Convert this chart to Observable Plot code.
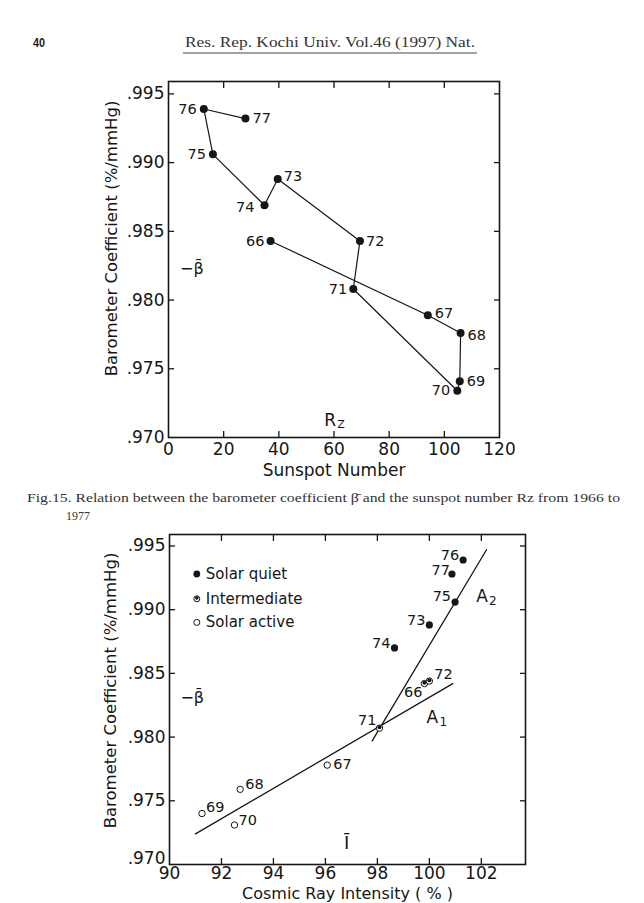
<!DOCTYPE html>
<html>
<head>
<meta charset="utf-8">
<script src="https://cdn.jsdelivr.net/npm/d3@7"></script>
<script src="https://cdn.jsdelivr.net/npm/@observablehq/plot@0.6"></script>
<style>
  html, body { margin: 0; padding: 0; background: #fff; }
  #page { position: relative; width: 644px; height: 903px; overflow: hidden; background: #fff; }
  #page > svg, #page > figure, #page > div { position: absolute; margin: 0; }
</style>
</head>
<body>
<div id="page"></div>
<script>
// Yearly barometer coefficient (-beta bar, %/mmHg), 1966-1977
const years = ["66", "67", "68", "69", "70", "71", "72", "73", "74", "75", "76", "77"];

// Fig.15: against the yearly sunspot number Rz
const sunspot = [37.0, 94.0, 105.9, 105.6, 104.7, 67.0, 69.4, 39.6, 34.8, 16.1, 12.8, 27.9];
const coefRz = [0.9843, 0.9789, 0.9776, 0.9741, 0.9734, 0.9808, 0.9843, 0.9888, 0.9869, 0.9906, 0.9939, 0.9932];

// Fig.16: against the yearly mean cosmic ray intensity
const cosmicRay = [99.81, 96.07, 92.72, 91.25, 92.50, 98.08, 100.0, 100.0, 98.66, 100.99, 101.30, 100.87];
const coefCR = [0.9842, 0.9778, 0.9759, 0.9740, 0.9731, 0.9807, 0.9844, 0.9888, 0.9870, 0.9906, 0.9939, 0.9928];
const activity = ["Intermediate", "Solar active", "Solar active", "Solar active", "Solar active", "Intermediate",
                  "Intermediate", "Solar quiet", "Solar quiet", "Solar quiet", "Solar quiet", "Solar quiet"];

// Regression lines A1 (solar active) and A2 (solar quiet): end points
const lineA1x = [91.0, 100.9];
const lineA1y = [0.9724, 0.9842];
const lineA2x = [97.8, 102.2];
const lineA2y = [0.9797, 0.9947];

// Axis ticks
const coefTicks = [0.970, 0.975, 0.980, 0.985, 0.990, 0.995];
const sunspotTicks = [0, 20, 40, 60, 80, 100, 120];
const cosmicTicks = [90, 92, 94, 96, 98, 100, 102];
const legendKeys = ["Solar quiet", "Intermediate", "Solar active"];

const ink = "#161616";
const font = "'DejaVu Sans', sans-serif";
const coefFmt = d => d3.format(".3f")(d).slice(1);

const page = document.getElementById("page");

// label placement around each point: [textAnchor, dx, dy]
const place15 = {
  "66": ["end", -6, 0], "67": ["start", 7, -2], "68": ["start", 7, 2], "69": ["start", 7, 0],
  "70": ["end", -7, 0], "71": ["end", -6, 0], "72": ["start", 6, 0], "73": ["start", 6, -3],
  "74": ["end", -10, 2], "75": ["end", -7, 0], "76": ["end", -7, 0], "77": ["start", 7, 0]
};
const place16 = {
  "66": ["end", -2, 9], "67": ["start", 6, -1], "68": ["start", 5, -5], "69": ["start", 4, -6],
  "70": ["start", 4, -5], "71": ["end", -3, -8], "72": ["start", 5, -7], "73": ["end", -4, -5],
  "74": ["end", -4, -5], "75": ["end", -4, -6], "76": ["end", -4, -5], "77": ["end", -2, -4]
};

function yearLabels(pts, place) {
  return pts.map(p => {
    const [anchor, dx, dy] = place[p.yr];
    return Plot.text([p], {x: "x", y: "y", text: "yr", textAnchor: anchor, dx, dy,
                           fontSize: 14.5, fill: ink});
  });
}

// inward ticks on all four sides plus outside tick labels;
// the lowest y label can be lifted clear of the first x label
function frameAxes(xTicks, yTicks, xInner, yInner, xPad, lowLift) {
  return [
    Plot.frame({stroke: ink, strokeWidth: 1.6}),
    Plot.axisX(xTicks, {anchor: "bottom", tickSize: 0, tickPadding: xPad, tickFormat: d => String(d), label: null, fill: ink}),
    Plot.axisX(xInner, {anchor: "bottom", tickSize: -6, tickFormat: () => "", label: null, stroke: ink, strokeWidth: 1.3}),
    Plot.axisX(xInner, {anchor: "top", tickSize: -6, tickFormat: () => "", label: null, stroke: ink, strokeWidth: 1.3}),
    Plot.axisY(yTicks.slice(1), {anchor: "left", tickSize: 0, tickPadding: 4, tickFormat: coefFmt, label: null, fill: ink}),
    Plot.axisY(yTicks.slice(0, 1), {anchor: "left", tickSize: 0, tickPadding: 4, tickFormat: coefFmt, label: null, fill: ink, dy: -lowLift}),
    Plot.axisY(yInner, {anchor: "left", tickSize: -6, tickFormat: () => "", label: null, stroke: ink, strokeWidth: 1.3}),
    Plot.axisY(yInner, {anchor: "right", tickSize: -6, tickFormat: () => "", label: null, stroke: ink, strokeWidth: 1.3})
  ];
}

const yTitle = "Barometer Coefficient (%/mmHg)";

// ---- Fig.15 ----
const pts15 = years.map((yr, i) => ({yr, x: sunspot[i], y: coefRz[i]}));
const chart15 = Plot.plot({
  width: 644, height: 430,
  marginLeft: 168, marginRight: 145, marginTop: 21, marginBottom: 53,
  x: {domain: [0, 120]},
  y: {domain: [0.970, 0.9959]},
  style: {fontFamily: font, fontSize: "17px", color: ink, background: "transparent", overflow: "visible"},
  marks: [
    ...frameAxes(sunspotTicks, coefTicks, sunspotTicks.slice(1, -1), coefTicks.slice(1), 5, 0),
    Plot.line(pts15, {x: "x", y: "y", stroke: ink, strokeWidth: 1.2}),
    Plot.dot(pts15, {x: "x", y: "y", r: 4, fill: ink}),
    ...yearLabels(pts15, place15),
    Plot.text([yTitle], {frameAnchor: "left", textAnchor: "middle", rotate: -90, dx: -57, dy: -21, fontSize: 16.5, fill: ink}),
    Plot.text(["Sunspot Number"], {frameAnchor: "bottom", textAnchor: "middle", dy: 38, fontSize: 17, fill: ink}),
    Plot.text(["\u2212\u03B2\u0304"], {x: [4.2], y: [0.9823], textAnchor: "start", fontSize: 16, fill: ink}),
    Plot.text(["R"], {x: [56.5], y: [0.9712], textAnchor: "start", fontSize: 17, fill: ink}),
    Plot.text(["Z"], {x: [61.2], y: [0.9712], textAnchor: "start", dy: 3, fontSize: 11, fill: ink})
  ]
});
chart15.style.left = "0px";
chart15.style.top = "60px";
page.appendChild(chart15);

// ---- Fig.16 ----
const pts16 = years.map((yr, i) => ({yr, x: cosmicRay[i], y: coefCR[i], kind: activity[i]}));
const legend = legendKeys.map((k, i) => ({kind: k, x: 91.05, y: [0.9928, 0.99085, 0.9890][i]}));
const lineA1 = lineA1x.map((x, i) => ({x, y: lineA1y[i]}));
const lineA2 = lineA2x.map((x, i) => ({x, y: lineA2y[i]}));

function symbols(data, r) {
  const quiet = data.filter(d => d.kind === "Solar quiet");
  const mid = data.filter(d => d.kind === "Intermediate");
  const active = data.filter(d => d.kind === "Solar active");
  return [
    Plot.dot(quiet, {x: "x", y: "y", r, fill: ink}),
    Plot.dot(mid, {x: "x", y: "y", r: r - 0.4, fill: "#fff", stroke: ink, strokeWidth: 1}),
    Plot.dot(mid, {x: "x", y: "y", r: r - 1.6, fill: ink, dy: -0.9}),
    Plot.dot(active, {x: "x", y: "y", r: r - 0.4, fill: "#fff", stroke: ink, strokeWidth: 1})
  ];
}

const chart16 = Plot.plot({
  width: 644, height: 383,
  marginLeft: 169, marginRight: 119, marginTop: 14, marginBottom: 39,
  x: {domain: [90, 103.7]},
  y: {domain: [0.970, 0.9959]},
  style: {fontFamily: font, fontSize: "17px", color: ink, background: "transparent", overflow: "visible"},
  marks: [
    ...frameAxes(cosmicTicks, coefTicks, cosmicTicks.slice(1), coefTicks.slice(1), 2, 6),
    Plot.line(lineA1, {x: "x", y: "y", stroke: ink, strokeWidth: 1.3}),
    Plot.line(lineA2, {x: "x", y: "y", stroke: ink, strokeWidth: 1.3}),
    ...symbols(pts16, 3.6),
    ...yearLabels(pts16, place16),
    ...symbols(legend, 3.4),
    Plot.text(legend, {x: "x", y: "y", text: "kind", textAnchor: "start", dx: 9, fontSize: 15, fill: ink}),
    Plot.text([yTitle], {frameAnchor: "left", textAnchor: "middle", rotate: -90, dx: -59, dy: -9, fontSize: 16.5, fill: ink}),
    Plot.text(["Cosmic Ray Intensity ( % )"], {frameAnchor: "bottom", textAnchor: "middle", dy: 34, fontSize: 16, fill: ink}),
    Plot.text(["\u2212\u03B2\u0304"], {x: [90.42], y: [0.9831], textAnchor: "start", fontSize: 16, fill: ink}),
    Plot.text(["I\u0304"], {x: [96.82], y: [0.9717], fontSize: 18, fill: ink}),
    Plot.text(["A"], {x: [101.8], y: [0.9910], textAnchor: "start", fontSize: 17, fill: ink}),
    Plot.text(["2"], {x: [102.3], y: [0.9910], textAnchor: "start", dy: 4, fontSize: 12, fill: ink}),
    Plot.text(["A"], {x: [99.89], y: [0.98152], textAnchor: "start", fontSize: 17, fill: ink}),
    Plot.text(["1"], {x: [100.39], y: [0.98152], textAnchor: "start", dy: 4, fontSize: 12, fill: ink})
  ]
});
chart16.style.left = "0px";
chart16.style.top = "520px";
page.appendChild(chart16);

// ---- running head and figure caption ----
const svgNS = "http://www.w3.org/2000/svg";
const deco = document.createElementNS(svgNS, "svg");
deco.setAttribute("width", 644);
deco.setAttribute("height", 903);
deco.style.left = "0px";
deco.style.top = "0px";
deco.style.pointerEvents = "none";
page.insertBefore(deco, page.firstChild);

function addText(str, x, y, opts) {
  const t = document.createElementNS(svgNS, "text");
  t.setAttribute("x", x);
  t.setAttribute("y", y);
  t.setAttribute("fill", opts.fill || "#222");
  t.setAttribute("font-family", opts.family);
  t.setAttribute("font-size", opts.size);
  if (opts.weight) t.setAttribute("font-weight", opts.weight);
  if (opts.anchor) t.setAttribute("text-anchor", opts.anchor);
  if (opts.length) { t.setAttribute("textLength", opts.length); t.setAttribute("lengthAdjust", "spacingAndGlyphs"); }
  t.textContent = str;
  deco.appendChild(t);
  return t;
}
const serif = "'Liberation Serif', 'DejaVu Serif', serif";
addText("40", 33, 47, {family: "'Liberation Sans', sans-serif", size: 13, weight: "bold", length: 12});
addText("Res.  Rep.  Kochi  Univ.  Vol.46  (1997)  Nat.", 185, 47, {family: serif, size: 14, length: 290, fill: "#333"});
const rule = document.createElementNS(svgNS, "line");
rule.setAttribute("x1", 183); rule.setAttribute("x2", 477);
rule.setAttribute("y1", 53); rule.setAttribute("y2", 53);
rule.setAttribute("stroke", "#444"); rule.setAttribute("stroke-width", 1);
deco.appendChild(rule);

addText("Fig.15.  Relation between the barometer coefficient \u03B2\u0304 and the sunspot number Rz from 1966 to",
        27, 502, {family: serif, size: 13.5, length: 593, fill: "#333"});
addText("1977", 66, 520, {family: serif, size: 13.5, length: 24, fill: "#333"});
</script>
</body>
</html>
